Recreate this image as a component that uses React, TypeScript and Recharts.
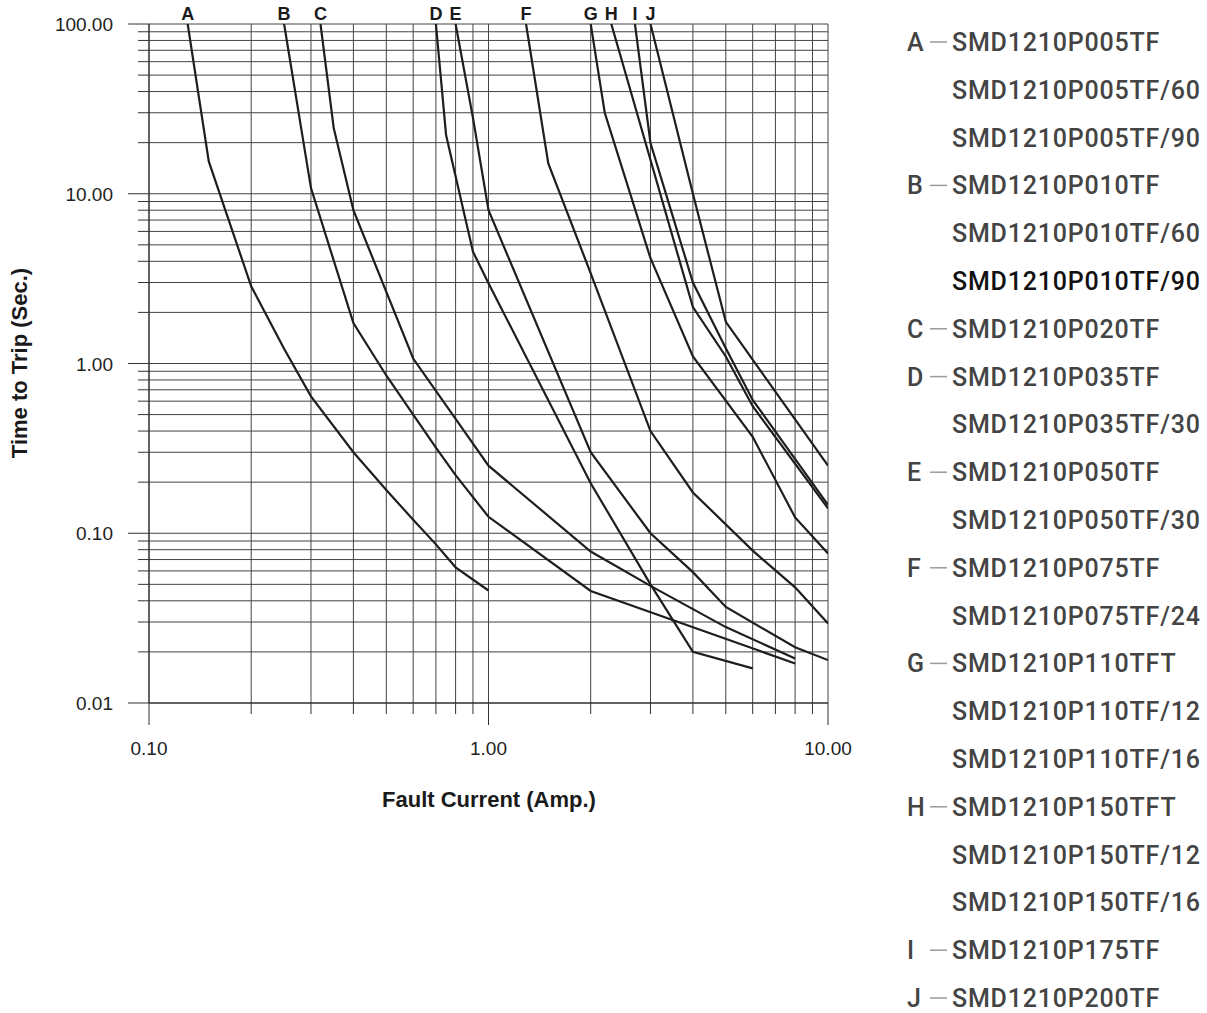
import React from 'react'
import { LineChart, Line, XAxis, YAxis, CartesianGrid, LabelList } from 'recharts'

// Fault current (A) vs time to trip (s)
const CURVE_A = [[0.13, 100], [0.15, 15.5], [0.2, 2.85], [0.25, 1.22], [0.3, 0.64], [0.4, 0.3], [0.5, 0.18], [0.6, 0.12], [0.7, 0.086], [0.8, 0.063], [1.0, 0.046]]
const CURVE_B = [[0.25, 100], [0.3, 10.8], [0.4, 1.73], [0.5, 0.85], [0.6, 0.5], [0.7, 0.32], [0.8, 0.22], [1.0, 0.125], [2, 0.0457], [8, 0.0171]]
const CURVE_C = [[0.32, 100], [0.35, 24.4], [0.4, 8], [0.6, 1.07], [1.0, 0.25], [2, 0.078], [3, 0.049], [5, 0.028], [8, 0.0183]]
const CURVE_D = [[0.7, 100], [0.75, 22.2], [0.9, 4.56], [1.0, 2.97], [2, 0.197], [3, 0.05], [4, 0.02], [6, 0.016]]
const CURVE_E = [[0.8, 100], [0.9, 28], [1.0, 8], [2, 0.3], [3, 0.1], [4, 0.059], [5, 0.0368], [8, 0.0213], [10, 0.0179]]
const CURVE_F = [[1.29, 100], [1.5, 15.1], [2, 3.4], [3, 0.4], [4, 0.174], [6, 0.079], [8, 0.048], [10, 0.0294]]
const CURVE_G = [[2.0, 100], [2.2, 30], [3, 4.17], [4, 1.1], [6, 0.37], [8, 0.124], [10, 0.076]]
const CURVE_H = [[2.3, 100], [4, 2.15], [5, 1.1], [6, 0.56], [10, 0.14]]
const CURVE_I = [[2.7, 100], [3, 19.9], [4, 3.0], [5, 1.23], [6, 0.61], [10, 0.147]]
const CURVE_J = [[3, 100], [4, 10], [5, 1.76], [10, 0.25]]

const CURVES: [string, number[][]][] = [
  ['A', CURVE_A], ['B', CURVE_B], ['C', CURVE_C], ['D', CURVE_D], ['E', CURVE_E],
  ['F', CURVE_F], ['G', CURVE_G], ['H', CURVE_H], ['I', CURVE_I], ['J', CURVE_J],
]

const X_TICKS = [0.1, 0.2, 0.3, 0.4, 0.5, 0.6, 0.7, 0.8, 0.9, 1, 2, 3, 4, 5, 6, 7, 8, 9, 10]
const Y_TICKS = [
  0.01, 0.02, 0.03, 0.04, 0.05, 0.06, 0.07, 0.08, 0.09,
  0.1, 0.2, 0.3, 0.4, 0.5, 0.6, 0.7, 0.8, 0.9,
  1, 2, 3, 4, 5, 6, 7, 8, 9,
  10, 20, 30, 40, 50, 60, 70, 80, 90, 100,
]

const PARTS: [string, string][] = [
  ['A', 'SMD1210P005TF'], ['', 'SMD1210P005TF/60'], ['', 'SMD1210P005TF/90'],
  ['B', 'SMD1210P010TF'], ['', 'SMD1210P010TF/60'], ['', 'SMD1210P010TF/90'],
  ['C', 'SMD1210P020TF'],
  ['D', 'SMD1210P035TF'], ['', 'SMD1210P035TF/30'],
  ['E', 'SMD1210P050TF'], ['', 'SMD1210P050TF/30'],
  ['F', 'SMD1210P075TF'], ['', 'SMD1210P075TF/24'],
  ['G', 'SMD1210P110TFT'], ['', 'SMD1210P110TF/12'], ['', 'SMD1210P110TF/16'],
  ['H', 'SMD1210P150TFT'], ['', 'SMD1210P150TF/12'], ['', 'SMD1210P150TF/16'],
  ['I', 'SMD1210P175TF'],
  ['J', 'SMD1210P200TF'],
]

const FONT = '"Liberation Sans", Arial, Helvetica, sans-serif'

const isDecade = (v: number) => Math.abs(Math.log10(v) - Math.round(Math.log10(v))) < 1e-6

const XTick = (props: any) => {
  const { x, y, payload } = props
  const major = isDecade(payload.value)
  return (
    <g>
      <line x1={x} x2={x} y1={y} y2={y + (major ? 22 : 11)} stroke="#333" />
      {major && (
        <text x={x} y={y + 52} textAnchor="middle" fontSize={19} fontFamily={FONT} fill="#222">
          {payload.value.toFixed(2)}
        </text>
      )}
    </g>
  )
}

const YTick = (props: any) => {
  const { x, y, payload } = props
  const major = isDecade(payload.value)
  return (
    <g>
      <line x1={x - (major ? 21 : 11)} x2={x} y1={y} y2={y} stroke="#333" />
      {major && (
        <text x={x - 36} y={y + 7} textAnchor="end" fontSize={19} fontFamily={FONT} fill="#222">
          {payload.value.toFixed(2)}
        </text>
      )}
    </g>
  )
}

const curveLabel = (name: string) => (props: any) => {
  const { x, y, index } = props
  if (index !== 0) return null
  return (
    <text x={x} y={y - 4} textAnchor="middle" fontSize={18} fontWeight="bold" fontFamily={FONT} fill="#1a1a1a">
      {name}
    </text>
  )
}

export default function App() {
  return (
    <div style={{ position: 'absolute', left: 0, top: 0, width: 1207, height: 1013, background: '#fff' }}>
      <LineChart width={1207} height={1013} margin={{ top: 24, right: 379, bottom: 270, left: 89 }}>
        <CartesianGrid stroke="#444" strokeWidth={1} />
        <XAxis
          type="number"
          dataKey="x"
          scale="log"
          domain={[0.1, 10]}
          ticks={X_TICKS}
          interval={0}
          allowDataOverflow
          tick={<XTick />}
          tickLine={false}
          tickSize={0}
          tickMargin={0}
          height={40}
          axisLine={{ stroke: '#222' }}
        />
        <YAxis
          type="number"
          scale="log"
          domain={[0.01, 100]}
          ticks={Y_TICKS}
          interval={0}
          allowDataOverflow
          tick={<YTick />}
          tickLine={false}
          tickSize={0}
          tickMargin={0}
          width={60}
          axisLine={{ stroke: '#222' }}
        />
        {CURVES.map(([name, pts]) => (
          <Line
            key={name}
            data={pts.map(([x, y]) => ({ x, y }))}
            dataKey="y"
            type="linear"
            stroke="#1e1e1e"
            strokeWidth={2.2}
            dot={false}
            isAnimationActive={false}
          >
            <LabelList dataKey="y" content={curveLabel(name)} />
          </Line>
        ))}
      </LineChart>

      <div
        style={{
          position: 'absolute', left: 489, top: 800, transform: 'translate(-50%, -50%)',
          fontFamily: FONT, fontWeight: 'bold', fontSize: 22, color: '#1a1a1a', whiteSpace: 'nowrap',
        }}
      >
        Fault Current (Amp.)
      </div>
      <div
        style={{
          position: 'absolute', left: 20, top: 363, transform: 'translate(-50%, -50%) rotate(-90deg)',
          fontFamily: FONT, fontWeight: 'bold', fontSize: 22, color: '#1a1a1a', whiteSpace: 'nowrap',
        }}
      >
        Time to Trip (Sec.)
      </div>

      <svg width={1207} height={1013} style={{ position: 'absolute', left: 0, top: 0, pointerEvents: 'none' }}>
        {PARTS.map(([letter, part], i) => {
          const cy = 42 + i * 47.8
          const fill = part === 'SMD1210P010TF/90' ? '#111' : '#444'
          return (
            <g key={part} fontFamily="Roboto, 'Noto Sans', sans-serif" fontWeight={500} fontSize={25}>
              {letter && (
                <>
                  <text x={907} y={cy + 9} fill="#444">{letter}</text>
                  <line x1={930} x2={947} y1={cy} y2={cy} stroke="#9a9a9a" strokeWidth={1.5} />
                </>
              )}
              <text x={952} y={cy + 9} fill={fill} letterSpacing={0.8}>{part}</text>
            </g>
          )
        })}
      </svg>
    </div>
  )
}
